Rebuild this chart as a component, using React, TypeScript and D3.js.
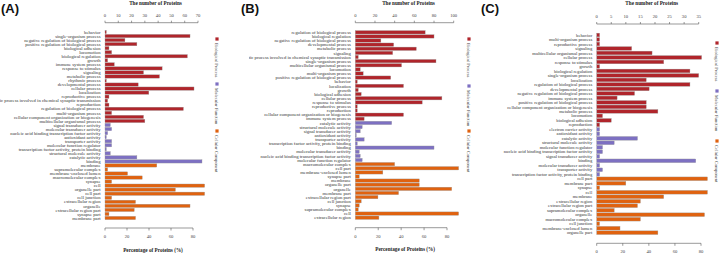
import React from "react";
import * as d3 from "d3";

// ---------- Panel A ----------
const bpLabelsA = ["behavior","single-organism process","negative regulation of biological process","positive regulation of biological process","biological adhesion","locomotion","biological regulation","growth","immune system process","response to stimulus","signaling","metabolic process","rhythmic process","developmental process","cellular process","localization","reproductive process","presynaptic process involved in chemical synaptic transmission","reproduction","regulation of biological process","multi-organism process","cellular component organization or biogenesis","multicellular organismal process"];
const bpValuesA = [1,64,15,24,3,5,62,2,7,43,29,41,1,25,67,33,3,2,3,59,5,29,30];
const mfLabelsA = ["signal transducer activity","molecular transducer activity","nucleic acid binding transcription factor activity","antioxidant activity","transporter activity","molecular function regulator","transcription factor activity, protein binding","structural molecule activity","catalytic activity","binding"];
const mfValuesA = [4,5,2,1,5,5,1,4,24,73];
const ccLabelsA = ["membrane","supramolecular complex","membrane-enclosed lumen","macromolecular complex","synapse","cell","organelle part","cell part","cell junction","extracellular region","organelle","extracellular region part","synapse part","membrane part"];
const ccValuesA = [39,2,17,28,5,75,53,75,5,23,64,22,3,23];

// ---------- Panel B ----------
const bpLabelsB = ["regulation of biological process","biological regulation","negative regulation of biological process","developmental process","metabolic process","signaling","presynaptic process involved in chemical synaptic transmission","single-organism process","multicellular organismal process","locomotion","multi-organism process","positive regulation of biological process","behavior","localization","growth","biological adhesion","cellular process","response to stimulus","reproductive process","reproduction","cellular component organization or biogenesis","immune system process"];
const bpValuesB = [71,80,26,39,62,38,3,82,47,5,8,36,2,49,3,6,88,68,2,2,49,9];
const mfLabelsB = ["catalytic activity","structural molecule activity","signal transducer activity","antioxidant activity","transporter activity","transcription factor activity, protein binding","binding","molecular transducer activity","nucleic acid binding transcription factor activity","molecular function regulator"];
const mfValuesB = [37,7,5,1,9,2,80,4,5,7];
const ccLabelsB = ["macromolecular complex","cell part","membrane-enclosed lumen","synapse part","membrane","organelle part","organelle","membrane part","extracellular region part","cell junction","synapse","supramolecular complex","cell","extracellular region"];
const ccValuesB = [40,105,28,4,65,65,98,44,23,6,4,3,105,24];

// ---------- Panel C ----------
const bpLabelsC = ["behavior","multi-organism process","reproductive process","signaling","multicellular organismal process","cellular process","response to stimulus","growth","biological regulation","single-organism process","localization","regulation of biological process","developmental process","negative regulation of biological process","immune system process","positive regulation of biological process","cellular component organization or biogenesis","metabolic process","locomotion","biological adhesion","reproduction"];
const bpValuesC = [1,1,1,12,19,36,23,1,32,35,17,32,18,13,7,17,17,21,2,5,1];
const mfLabelsC = ["electron carrier activity","antioxidant activity","catalytic activity","structural molecule activity","molecular function regulator","nucleic acid binding transcription factor activity","signal transducer activity","binding","molecular transducer activity","transporter activity","transcription factor activity, protein binding"];
const mfValuesC = [1,1,14,6,2,2,1,34,1,2,1];
const ccLabelsC = ["cell part","membrane part","synapse","cell","membrane","extracellular region","extracellular region part","supramolecular complex","organelle","macromolecular complex","cell junction","membrane-enclosed lumen","organelle part"];
const ccValuesC = [38,10,1,38,23,15,14,6,37,15,1,8,21];

const groupNames = ["Biological Process", "Molecular Function", "Cellular Component"];
const groupColors = ["#B0252B", "#7D70C2", "#E0620F"];

const totalsProteins = [83, 117, 45];
const protTicksA = [0, 10, 20, 30, 40, 50, 60, 70];
const protTicksB = [0, 20, 40, 60, 80, 100];
const protTicksC = [0, 5, 10, 15, 20, 25, 30, 35];
const pctTicks = [0, 20, 40, 60, 80];

type PanelProps = {
  x0: number;
  clipX: number;
  letter: string;
  labels: string[][];
  values: number[][];
  total: number;
  protTicks: number[];
  layout: {
    xLeft: number; protRight: number; pctRight: number;
    topY: number; firstC: number; lastC: number; bottomY: number;
    legendX: number; legendYs: number[]; fontSize: number;
  };
};

const serif = "'Liberation Serif', 'DejaVu Serif', serif";

function Panel({ x0, clipX, letter, labels, values, total, protTicks, layout }: PanelProps) {
  const L = layout;
  const rows: { label: string; value: number; g: number }[] = [];
  labels.forEach((arr, g) => arr.forEach((lab, i) => rows.push({ label: lab, value: values[g][i], g })));
  const n = rows.length;
  const step = (L.lastC - L.firstC) / (n - 1);
  const y = d3.scaleBand<number>()
    .domain(d3.range(n))
    .range([L.firstC - step / 2, L.lastC + step / 2])
    .paddingInner(0.18).paddingOuter(0.09);
  const protMax = protTicks[protTicks.length - 1];
  const xProt = d3.scaleLinear().domain([0, protMax]).range([L.xLeft, L.protRight]);
  const xPct = d3.scaleLinear().domain([0, 80]).range([L.xLeft, L.pctRight]);
  const clipId = "clip" + letter;
  const axisColor = "#555";
  return (
    <g>
      <defs>
        <clipPath id={clipId}><rect x={clipX} y={0} width={x0 + 240 - clipX} height={253} /></clipPath>
      </defs>
      <text x={x0 + 1} y={13} fontFamily="'Liberation Sans', Arial, sans-serif" fontWeight="bold" fontSize={13} fill="#111">{`(${letter})`}</text>
      <g clipPath={`url(#${clipId})`}>
        <text x={(L.xLeft + L.protRight) / 2 + 4} y={5} textAnchor="middle" fontFamily={serif} fontWeight="bold" fontSize={5.2} fill="#222">The number of Proteins</text>
        {/* top axis */}
        <line x1={xProt(0)} x2={xProt(protMax)} y1={L.topY} y2={L.topY} stroke={axisColor} strokeWidth={0.6} />
        {protTicks.map(t => (
          <g key={"pt" + t}>
            <line x1={xProt(t)} x2={xProt(t)} y1={L.topY} y2={L.topY - 2} stroke={axisColor} strokeWidth={0.6} />
            <text x={xProt(t)} y={L.topY - 6} textAnchor="middle" fontFamily={serif} fontSize={4.6} fill="#444">{t}</text>
          </g>
        ))}
        {/* bars */}
        {rows.map((r, i) => (
          <g key={"r" + i}>
            <rect x={xProt(0)} y={y(i)!} width={Math.max(0, xProt(r.value) - xProt(0))} height={y.bandwidth()} fill={groupColors[r.g]} stroke="#9a9a9a" strokeWidth={0.35} />
            <text x={L.xLeft - 4.5} y={y(i)! + y.bandwidth() / 2} dy="0.35em" textAnchor="end" fontFamily={serif} fontSize={L.fontSize} fill="#333">{r.label}</text>
          </g>
        ))}
        {/* bottom axis (percentage) */}
        <line x1={xPct(0)} x2={xPct(80)} y1={L.bottomY} y2={L.bottomY} stroke={axisColor} strokeWidth={0.6} />
        {pctTicks.map(t => (
          <g key={"ct" + t}>
            <line x1={xPct(t)} x2={xPct(t)} y1={L.bottomY} y2={L.bottomY + 2.5} stroke={axisColor} strokeWidth={0.6} />
            <text x={xPct(t)} y={L.bottomY + 10} textAnchor="middle" fontFamily={serif} fontSize={4.6} fill="#444">{t}</text>
          </g>
        ))}
        <text x={(L.xLeft + L.pctRight) / 2 + 4} y={L.bottomY + 23.5} textAnchor="middle" fontFamily={serif} fontWeight="bold" fontSize={5.2} fill="#222">Percentage of Proteins (%)</text>
        {/* legend */}
        {groupNames.map((gname, g) => (
          <g key={"lg" + g}>
            <rect x={L.legendX - 1.6} y={L.legendYs[g] - 1.6} width={3.2} height={3.2} fill={groupColors[g]} />
            <text transform={`translate(${L.legendX},${L.legendYs[g] + 4}) rotate(90)`} dy="0.35em" fontFamily={serif} fontSize={4.6} fill="#444">{gname}</text>
          </g>
        ))}
      </g>
    </g>
  );
}

export default function App() {
  return (
    <div style={{ position: "absolute", left: 0, top: 0 }}>
      <svg width={720} height={253} style={{ display: "block", background: "#fff" }}>
        <rect x={0} y={0} width={720} height={253} fill="#fff" />
        <Panel x0={0} clipX={0} letter="A" labels={[bpLabelsA, mfLabelsA, ccLabelsA]} values={[bpValuesA, mfValuesA, ccValuesA]}
          total={totalsProteins[0]} protTicks={protTicksA}
          layout={{ xLeft: 105, protRight: 198, pctRight: 193, topY: 22.7, firstC: 32, lastC: 218, bottomY: 228, legendX: 217, legendYs: [39, 84, 131], fontSize: 4.7 }} />
        <Panel x0={240} clipX={249} letter="B" labels={[bpLabelsB, mfLabelsB, ccLabelsB]} values={[bpValuesB, mfValuesB, ccValuesB]}
          total={totalsProteins[1]} protTicks={protTicksB}
          layout={{ xLeft: 355.3, protRight: 453.7, pctRight: 447, topY: 22.7, firstC: 32.3, lastC: 217.7, bottomY: 227.7, legendX: 469, legendYs: [39, 86, 131], fontSize: 4.7 }} />
        <Panel x0={480} clipX={480} letter="C" labels={[bpLabelsC, mfLabelsC, ccLabelsC]} values={[bpValuesC, mfValuesC, ccValuesC]}
          total={totalsProteins[2]} protTicks={protTicksC}
          layout={{ xLeft: 596.7, protRight: 698.7, pctRight: 701, topY: 24, firstC: 35, lastC: 232.7, bottomY: 243.3, legendX: 717, legendYs: [43, 91, 141], fontSize: 4.6 }} />
      </svg>
    </div>
  );
}
